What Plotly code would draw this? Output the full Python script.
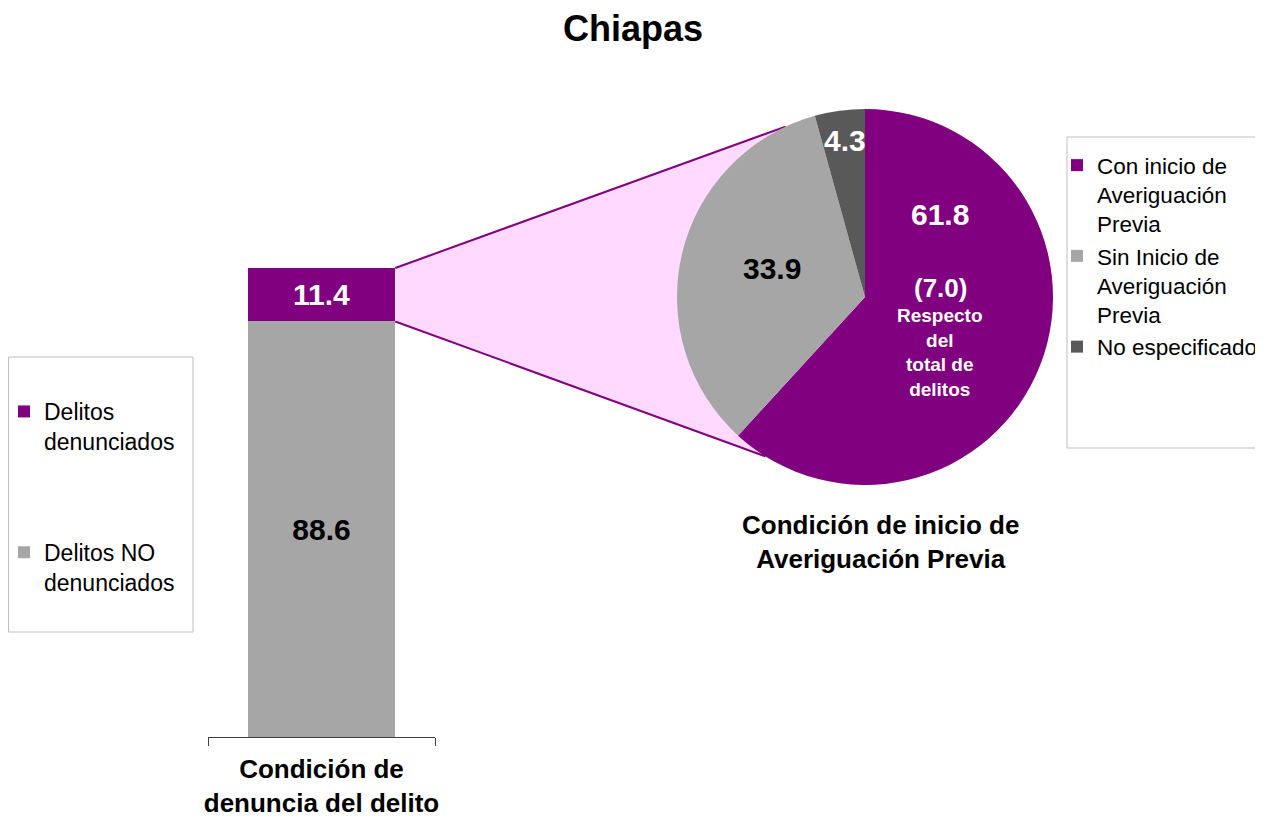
import math
import plotly.graph_objects as go

# ---------------------------------------------------------
# DATA
# ---------------------------------------------------------

titulo = "Chiapas"

bar_category = ["Condición de<br>denuncia del delito"]
bar_labels = ["Delitos<br>denunciados", "Delitos NO<br>denunciados"]
bar_values = [11.4, 88.6]

pie_labels = ["Con inicio de<br>Averiguación<br>Previa",
              "Sin Inicio de<br>Averiguación<br>Previa",
              "No especificado"]
pie_values = [61.8, 33.9, 4.3]
pie_title = "Condición de inicio de<br>Averiguación Previa"
respecto_total = 7.0

PURPLE = "#800080"
GRAY = "#A6A6A6"
DARK = "#595959"
PINK = "#FFD9FF"
FONT = "Liberation Sans, Arial, sans-serif"

# the page body has an 8px margin, so the figure starts at (8, 8)
OFF = 8
W, H = 1263 - OFF, 818 - OFF


def px(x):
    return (x - OFF) / W


def py(y):
    return 1 - (y - OFF) / H


# ---------------------------------------------------------
# GEOMETRY (screen pixels)
# ---------------------------------------------------------

xdom = [px(208), px(435)]
ydom = [py(737), py(268)]
bargap = 0.35

cx, cy, r = 865, 297, 188
pie_dom_x = [px(cx - r), px(cx + r)]
pie_dom_y = [py(cy + r), py(cy - r)]

# ---------------------------------------------------------
# FIGURE
# ---------------------------------------------------------

fig = go.Figure()

fig.add_trace(go.Bar(
    x=bar_category, y=[bar_values[1]], name=bar_labels[1],
    marker=dict(color=GRAY, line=dict(width=0)),
    text=[f"{bar_values[1]:.1f}"], textposition="inside",
    insidetextanchor="middle", textangle=0,
    textfont=dict(family=FONT, size=30, color="black", weight="bold"),
    legend="legend", legendgroup="no", legendrank=2, hoverinfo="skip"
))

fig.add_trace(go.Bar(
    x=bar_category, y=[bar_values[0]], name=bar_labels[0],
    marker=dict(color=PURPLE, line=dict(width=0)),
    text=[f"{bar_values[0]:.1f}"], textposition="inside",
    insidetextanchor="middle", textangle=0,
    textfont=dict(family=FONT, size=30, color="white", weight="bold"),
    legend="legend", legendgroup="si", legendrank=1, hoverinfo="skip"
))

fig.add_trace(go.Pie(
    labels=pie_labels, values=pie_values,
    marker=dict(colors=[PURPLE, GRAY, DARK], line=dict(width=0)),
    sort=False, direction="clockwise", rotation=0,
    textinfo="none", hoverinfo="skip",
    domain=dict(x=pie_dom_x, y=pie_dom_y),
    legend="legend2"
))

# connector between bar and pie
total = sum(bar_values)
bar_right = xdom[0] + (0.5 + (1 - bargap) / 2) * (xdom[1] - xdom[0])
y_top = ydom[0] + (total / 100) * (ydom[1] - ydom[0])
y_split = ydom[0] + (bar_values[1] / 100) * (ydom[1] - ydom[0])


def pie_point(deg):
    a = math.radians(deg)
    return px(cx + r * math.sin(a)), py(cy - r * math.cos(a))


p_top = pie_point(-25)
p_bot = pie_point(212)

fig.add_shape(
    type="path", xref="paper", yref="paper", layer="below",
    path=(f"M{bar_right},{y_top} L{p_top[0]},{p_top[1]} "
          f"L{p_bot[0]},{p_bot[1]} L{bar_right},{y_split} Z"),
    fillcolor=PINK, line=dict(width=0)
)
for p, yy in [(p_top, y_top), (p_bot, y_split)]:
    fig.add_shape(type="line", xref="paper", yref="paper", layer="below",
                  x0=bar_right, y0=yy, x1=p[0], y1=p[1],
                  line=dict(color=PURPLE, width=2))

# legend boxes
fig.add_shape(type="rect", xref="paper", yref="paper",
              x0=px(8.5), x1=px(193), y0=py(632), y1=py(357),
              line=dict(color="#BFBFBF", width=1))
fig.add_shape(type="rect", xref="paper", yref="paper",
              x0=px(1067), x1=px(1275), y0=py(448), y1=py(137),
              line=dict(color="#BFBFBF", width=1))


def label(x, y, text, size, color):
    fig.add_annotation(x=px(x), y=py(y), xref="paper", yref="paper",
                       xanchor="center", yanchor="middle",
                       text=text, showarrow=False,
                       font=dict(family=FONT, size=size, color=color,
                                 weight="bold"))


# pie labels
pie_text_pos = [(940, 215, "white"), (772, 268, "black"), (845, 140, "white")]
for v, (x, y, c) in zip(pie_values, pie_text_pos):
    label(x, y, f"{v:.1f}", 30, c)

label(940, 288, f"({respecto_total:.1f})", 26, "white")
label(940, 352, "Respecto<br>del<br>total de<br>delitos", 19, "white")
label(880, 542, pie_title, 26, "black")

fig.update_layout(
    width=W, height=H,
    margin=dict(l=0, r=0, t=0, b=0, autoexpand=False),
    paper_bgcolor="white",
    plot_bgcolor="rgba(0,0,0,0)",
    barmode="stack",
    bargap=bargap,
    font=dict(family=FONT, color="black"),
    title=dict(text=titulo, x=px(633), xanchor="center", y=py(28), yanchor="middle",
               font=dict(family=FONT, size=36, color="black", weight="bold")),
    xaxis=dict(domain=xdom, showline=True, linecolor="#404040", linewidth=1,
               ticks="outside", tickson="boundaries", ticklen=8,
               tickcolor="#404040", showgrid=False, zeroline=False,
               tickangle=0, automargin=False,
               tickfont=dict(family=FONT, size=26, color="black", weight="bold"),
               ticklabelstandoff=9, fixedrange=True),
    yaxis=dict(domain=ydom, range=[0, 100], visible=False, fixedrange=True,
               automargin=False),
    legend=dict(x=px(4), y=py(390), xanchor="left", yanchor="top",
                traceorder="grouped", tracegroupgap=78,
                valign="top", bgcolor="rgba(0,0,0,0)",
                font=dict(family=FONT, size=23, color="black")),
    legend2=dict(x=px(1057), y=py(144), xanchor="left", yanchor="top",
                 valign="top", bgcolor="rgba(0,0,0,0)",
                 font=dict(family=FONT, size=22.5, color="black")),
)

fig.write_html("out.html")
